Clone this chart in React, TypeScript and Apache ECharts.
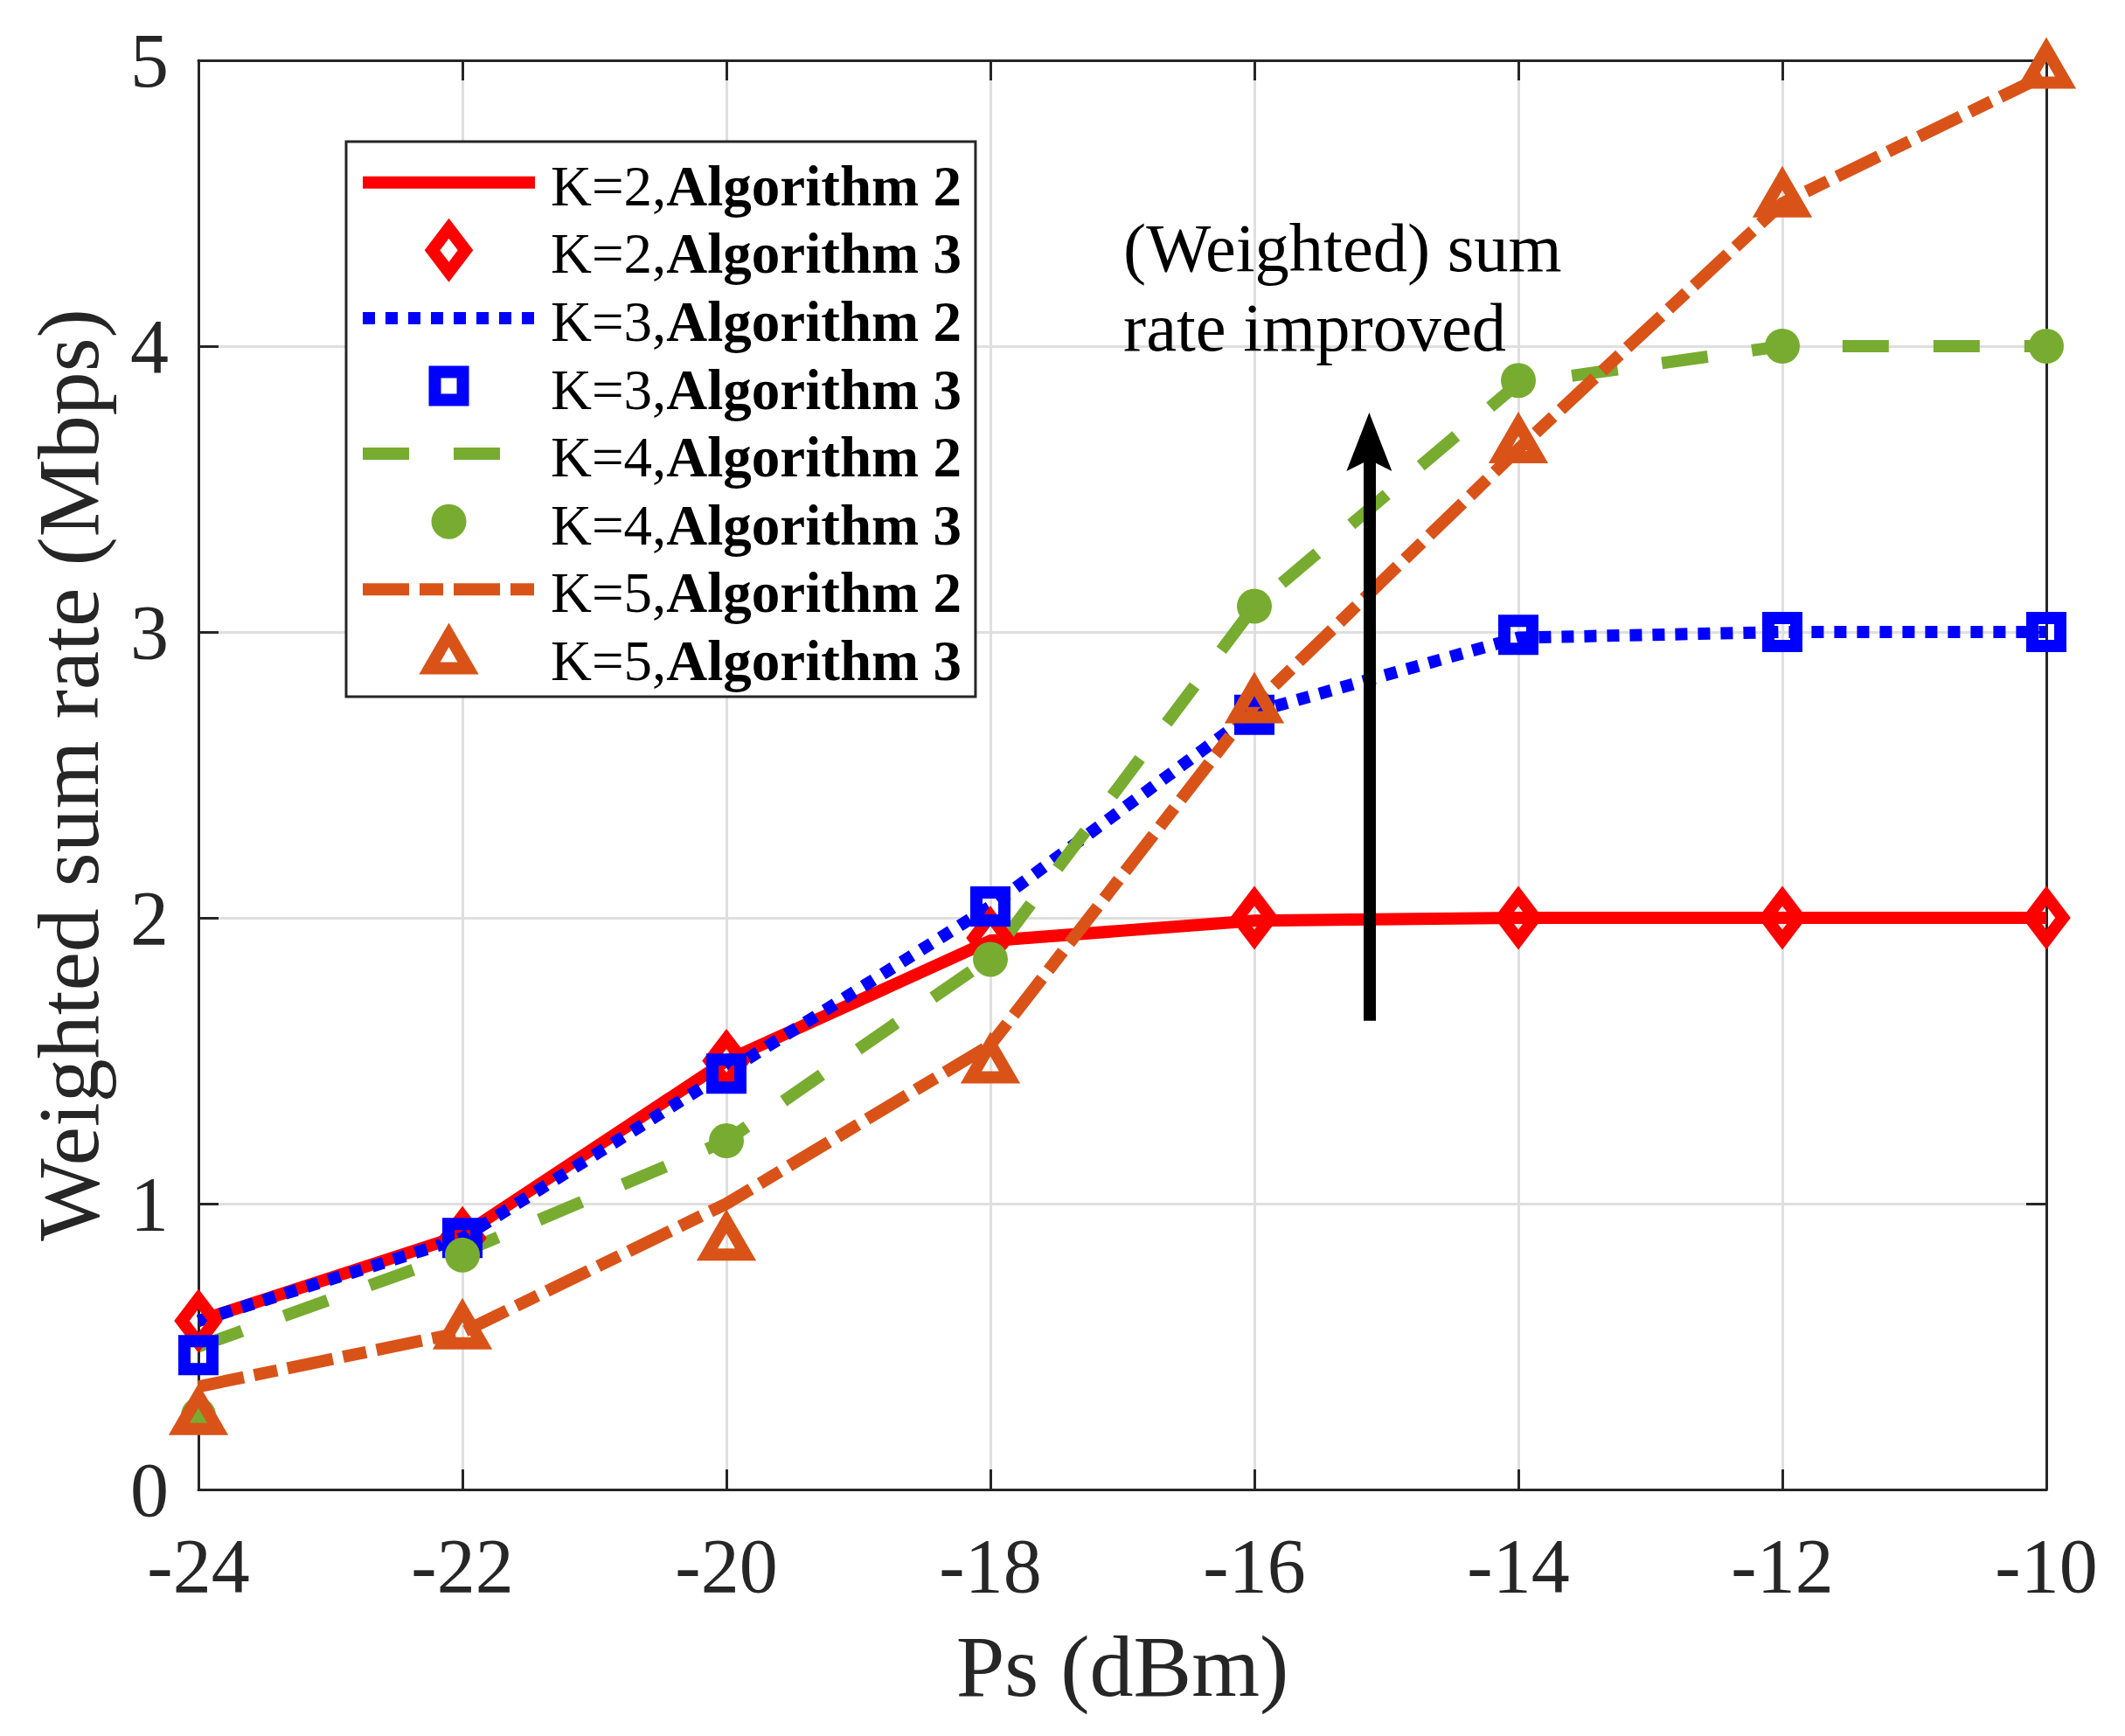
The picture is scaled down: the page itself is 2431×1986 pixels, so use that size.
import React, { useEffect, useRef } from 'react';
import * as echarts from 'echarts';

// ---- data ----
const psDbm = [-24, -22, -20, -18, -16, -14, -12, -10];
const xTicks = { min: -24, max: -10, interval: 2 };
const yTicks = { min: 0, max: 5, interval: 1 };

const k2Alg2 = [0.59, 0.89, 1.5, 1.92, 1.99, 2.0, 2.0, 2.0];
const k2Alg3 = [0.59, 0.88, 1.5, 1.93, 2.0, 2.0, 2.0, 2.0];
const k3Alg2 = [0.59, 0.88, 1.46, 2.04, 2.72, 2.98, 3.0, 3.0];
const k3Alg3 = [0.47, 0.88, 1.455, 2.04, 2.71, 2.99, 3.0, 3.0];
const k4Alg2 = [0.5, 0.83, 1.22, 1.86, 3.09, 3.87, 4.0, 4.0];
const k4Alg3 = [0.26, 0.82, 1.22, 1.855, 3.09, 3.88, 4.0, 4.0];
const k5Alg2 = [0.36, 0.55, 1.0, 1.555, 2.745, 3.64, 4.5, 4.95];
const k5Alg3 = [0.25, 0.55, 0.86, 1.48, 2.74, 3.65, 4.51, 4.96];

const seriesNames = [
  'K=2,Algorithm 2',
  'K=2,Algorithm 3',
  'K=3,Algorithm 2',
  'K=3,Algorithm 3',
  'K=4,Algorithm 2',
  'K=4,Algorithm 3',
  'K=5,Algorithm 2',
  'K=5,Algorithm 3',
];

const arrowX = -15.13;
const arrowFrom = 1.64;
const arrowTo = 3.665;
const annotation = '(Weighted) sum\nrate improved';

const xName = 'Ps (dBm)';
const yName = 'Weighted sum rate (Mbps)';

// ---- styles ----
const FONT = "'Liberation Serif', 'Times New Roman', Times, serif";
const RED = '#ff0000';
const BLUE = '#0000ff';
const GREEN = '#77ac30';
const ORANGE = '#d95319';
const AXIS = '#262626';
const GRID = '#dfdfdf';
const LW = 14;

// marker paths, all in a common 74x74 frame so they keep relative sizes
const diamondSym = 'path://M0 0M74 74M37 12L56 37L37 62L18 37Z';
const squareSym = 'path://M0 0M74 74M21 21L53 21L53 53L21 53Z';
const triangleSym = 'path://M0 0M74 74M37 11.5L59 49.5L15 49.5Z';
const circleSym = 'path://M0 0M74 74M57 37A20 20 0 1 1 17 37A20 20 0 1 1 57 37Z';
const arrowHeadSym = 'path://M26 0L52 67L26 54L0 67Z';
const SYM = 74;

const pts = (ys: number[]) => psDbm.map((x, i) => [x, ys[i]]);

function lineSeries(name: string, ys: number[], color: string, type: any) {
  return {
    name,
    type: 'line',
    data: pts(ys),
    symbol: 'none',
    clip: false,
    color,
    lineStyle: { color, width: LW, type, cap: 'butt', join: 'miter' },
    emphasis: { disabled: true },
    z: 2,
  };
}

function markerSeries(name: string, ys: number[], color: string, symbol: string, filled: boolean) {
  return {
    name,
    type: 'scatter',
    data: pts(ys),
    symbol,
    symbolSize: SYM,
    symbolKeepAspect: true,
    clip: false,
    itemStyle: filled
      ? { color, borderWidth: 0, opacity: 1 }
      : { color: 'rgba(0,0,0,0)', borderColor: color, borderWidth: LW, borderJoin: 'miter', borderMiterLimit: 10, opacity: 1 },
    emphasis: { disabled: true },
    z: 3,
  };
}

function buildOption() {
  const axisCommon = {
    type: 'value',
    axisLine: { show: true, onZero: false, lineStyle: { color: AXIS, width: 3 } },
    axisTick: { show: true, inside: true, length: 23, lineStyle: { color: AXIS, width: 3 } },
  };
  const last = markerSeries(seriesNames[7], k5Alg3, ORANGE, triangleSym, false) as any;
  last.markLine = {
    silent: true,
    animation: false,
    symbol: ['none', arrowHeadSym],
    symbolKeepAspect: false,
    label: { show: false },
    emphasis: { disabled: true },
    lineStyle: { color: '#000', width: LW, type: 'solid', opacity: 1 },
    data: [
      [
        { coord: [arrowX, arrowFrom], symbol: 'none' },
        { coord: [arrowX, arrowTo], symbol: arrowHeadSym, symbolSize: [52, 67], symbolKeepAspect: false },
      ],
    ],
    z: 10,
  };

  return {
    animation: false,
    backgroundColor: '#ffffff',
    grid: { left: 227, right: 90, top: 69, bottom: 282, containLabel: false },
    xAxis: [
      {
        ...axisCommon,
        position: 'bottom',
        ...xTicks,
        name: xName,
        nameLocation: 'middle',
        nameGap: 152,
        nameTextStyle: { fontFamily: FONT, fontSize: 100, color: AXIS },
        axisLabel: { show: true, fontFamily: FONT, fontSize: 88, color: AXIS, margin: 43 },
        splitLine: { show: true, lineStyle: { color: GRID, width: 3 } },
      },
      {
        ...axisCommon,
        position: 'top',
        ...xTicks,
        axisLabel: { show: false },
        splitLine: { show: false },
      },
    ],
    yAxis: [
      {
        ...axisCommon,
        position: 'left',
        ...yTicks,
        name: yName,
        nameLocation: 'middle',
        nameGap: 99,
        nameTextStyle: { fontFamily: FONT, fontSize: 100, color: AXIS },
        axisLabel: { show: true, fontFamily: FONT, fontSize: 88, color: AXIS, margin: 34 },
        splitLine: { show: true, lineStyle: { color: GRID, width: 3 } },
      },
      {
        ...axisCommon,
        position: 'right',
        ...yTicks,
        axisLabel: { show: false },
        splitLine: { show: false },
      },
    ],
    legend: {
      orient: 'vertical',
      left: 396,
      top: 162,
      padding: [1.7, 16, 0, 12],
      itemWidth: 197,
      itemHeight: SYM,
      itemGap: -12.4,
      backgroundColor: '#ffffff',
      borderColor: AXIS,
      borderWidth: 3,
      borderRadius: 0,
      selectedMode: false,
      symbolKeepAspect: true,
      lineStyle: { width: LW },
      itemStyle: { borderWidth: LW, borderJoin: 'miter', borderMiterLimit: 10 },
      data: seriesNames.map((n, i) =>
        i % 2 === 0 ? { name: n, itemStyle: { opacity: 0 } } : { name: n }
      ),
      formatter: (n: string) => {
        const idx = n.indexOf(',');
        return `{a|${n.slice(0, idx + 1)}}{b|${n.slice(idx + 1)}}`;
      },
      textStyle: {
        fontFamily: FONT,
        fontSize: 65,
        lineHeight: 60,
        color: '#000',
        padding: [19, 0, 11, 13],
        rich: {
          a: { fontFamily: FONT, fontSize: 65, lineHeight: 60, color: '#000' },
          b: { fontFamily: FONT, fontSize: 65, lineHeight: 60, fontWeight: 'bold', color: '#000' },
        },
      },
      z: 20,
    },
    graphic: [
      {
        type: 'text',
        left: 1285,
        top: 238,
        z: 50,
        style: { text: annotation, fontFamily: FONT, fontSize: 78.5, lineHeight: 91, fill: '#000' },
      },
    ],
    series: [
      lineSeries(seriesNames[0], k2Alg2, RED, 'solid'),
      markerSeries(seriesNames[1], k2Alg3, RED, diamondSym, false),
      lineSeries(seriesNames[2], k3Alg2, BLUE, [14, 12]),
      markerSeries(seriesNames[3], k3Alg3, BLUE, squareSym, false),
      lineSeries(seriesNames[4], k4Alg2, GREEN, [53, 51]),
      markerSeries(seriesNames[5], k4Alg3, GREEN, circleSym, true),
      lineSeries(seriesNames[6], k5Alg2, ORANGE, [53, 12, 27, 12]),
      last,
    ],
  };
}

export default function App() {
  const ref = useRef<HTMLDivElement>(null);
  useEffect(() => {
    if (!ref.current) return;
    const chart = echarts.init(ref.current, null, { renderer: 'svg' });
    chart.setOption(buildOption() as any);
    return () => chart.dispose();
  }, []);
  return (
    <div
      ref={ref}
      style={{ position: 'fixed', left: 0, top: 0, width: 2431, height: 1986, background: '#fff' }}
    />
  );
}
